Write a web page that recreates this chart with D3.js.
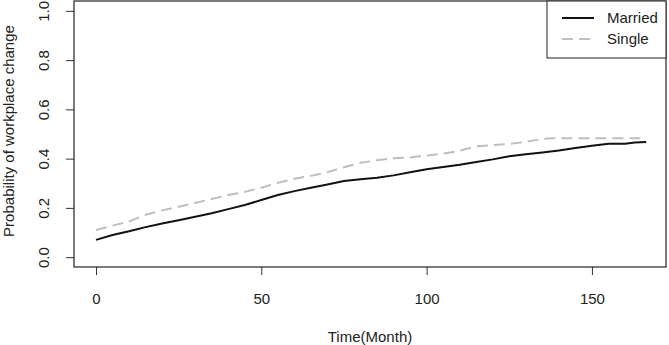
<!DOCTYPE html>
<html>
<head>
<meta charset="utf-8">
<script src="https://cdn.jsdelivr.net/npm/d3@7"></script>
<style>
  body { margin: 0; background: #fff; }
  text { font-family: "Liberation Sans", Arial, sans-serif; fill: #222; }
</style>
</head>
<body>
<script>
// cumulative probability (month, probability)
const marriedT = [0, 5, 10, 15, 20, 25, 30, 35, 40, 45, 50, 55, 60, 65, 70, 75, 80, 85, 90, 95, 100, 105, 110, 115, 120, 125, 130, 135, 140, 145, 150, 155, 160, 163, 166.4];
const marriedP = [0.070, 0.090, 0.105, 0.122, 0.137, 0.150, 0.164, 0.178, 0.195, 0.212, 0.232, 0.252, 0.268, 0.282, 0.295, 0.309, 0.316, 0.322, 0.332, 0.345, 0.357, 0.366, 0.375, 0.386, 0.397, 0.410, 0.418, 0.425, 0.433, 0.443, 0.452, 0.460, 0.460, 0.465, 0.468];

const singleT = [0, 5, 10, 15, 20, 25, 30, 35, 40, 45, 50, 55, 60, 65, 70, 75, 80, 85, 90, 95, 100, 105, 110, 115, 120, 125, 130, 135, 138, 166];
const singleP = [0.110, 0.128, 0.145, 0.172, 0.190, 0.205, 0.220, 0.236, 0.252, 0.265, 0.282, 0.302, 0.318, 0.330, 0.345, 0.365, 0.383, 0.393, 0.402, 0.405, 0.413, 0.420, 0.432, 0.450, 0.455, 0.460, 0.468, 0.480, 0.483, 0.483];

const xTicks = [0, 50, 100, 150];
const yTicks = [0, 0.2, 0.4, 0.6, 0.8, 1.0];
const seriesNames = ["Married", "Single"];

const w = 669, h = 345;
const box = { left: 74, right: 666, top: 1, bottom: 267 };

const svg = d3.select("body").append("svg")
    .attr("width", w)
    .attr("height", h);

const x = d3.scaleLinear()
    .domain([-6.65, 172.4])
    .range([box.left, box.right]);

const y = d3.scaleLinear()
    .domain([-0.04, 1.04])
    .range([box.bottom, box.top]);

// x axis
const xAxis = d3.axisBottom(x)
    .tickValues(xTicks)
    .tickSize(8)
    .tickPadding(18)
    .tickFormat(d3.format("d"));

const gx = svg.append("g")
    .attr("transform", "translate(0," + box.bottom + ")")
    .call(xAxis);
gx.select(".domain").remove();
gx.selectAll("line").attr("stroke", "#333");
gx.selectAll("text").attr("font-size", 15).attr("fill", "#222");

// y axis, labels rotated like base R
const yAxis = d3.axisLeft(y)
    .tickValues(yTicks)
    .tickSize(8)
    .tickFormat(d3.format(".1f"));

const gy = svg.append("g")
    .attr("transform", "translate(" + box.left + ",0)")
    .call(yAxis);
gy.select(".domain").remove();
gy.selectAll("line").attr("stroke", "#333");
gy.selectAll("text")
    .attr("font-size", 15)
    .attr("fill", "#222")
    .attr("x", null)
    .attr("text-anchor", "middle")
    .attr("transform", "translate(-20,0) rotate(-90)")
    .attr("dy", "-0.32em");

// plot box
svg.append("rect")
    .attr("x", box.left)
    .attr("y", box.top)
    .attr("width", box.right - box.left)
    .attr("height", box.bottom - box.top)
    .attr("fill", "none")
    .attr("stroke", "#222")
    .attr("stroke-width", 1.2);

// titles
svg.append("text")
    .attr("x", (box.left + box.right) / 2)
    .attr("y", 342)
    .attr("text-anchor", "middle")
    .attr("font-size", 15)
    .text("Time(Month)");

svg.append("text")
    .attr("transform", "translate(14," + ((box.top + box.bottom) / 2 - 3) + ") rotate(-90)")
    .attr("text-anchor", "middle")
    .attr("font-size", 15)
    .text("Probability of workplace change");

// curves
const line = d3.line()
    .x(function (d) { return x(d[0]); })
    .y(function (d) { return y(d[1]); });

const married = d3.zip(marriedT, marriedP);
const single = d3.zip(singleT, singleP);

svg.append("path")
    .datum(single)
    .attr("d", line)
    .attr("fill", "none")
    .attr("stroke", "#bebebe")
    .attr("stroke-width", 2)
    .attr("stroke-dasharray", "11,6");

svg.append("path")
    .datum(married)
    .attr("d", line)
    .attr("fill", "none")
    .attr("stroke", "#111")
    .attr("stroke-width", 2);

// legend
const lg = svg.append("g");
lg.append("rect")
    .attr("x", 547)
    .attr("y", box.top)
    .attr("width", box.right - 547)
    .attr("height", 57)
    .attr("fill", "#fff")
    .attr("stroke", "#222")
    .attr("stroke-width", 1);

const legendStyles = [
    { stroke: "#111", dash: null },
    { stroke: "#bebebe", dash: "11,6" }
];

seriesNames.forEach(function (name, i) {
    const ly = 18 + i * 21;
    lg.append("line")
        .attr("x1", 562).attr("x2", 594)
        .attr("y1", ly).attr("y2", ly)
        .attr("stroke", legendStyles[i].stroke)
        .attr("stroke-width", 2)
        .attr("stroke-dasharray", legendStyles[i].dash);
    lg.append("text")
        .attr("x", 607)
        .attr("y", ly + 5)
        .attr("font-size", 15)
        .text(name);
});
</script>
</body>
</html>
